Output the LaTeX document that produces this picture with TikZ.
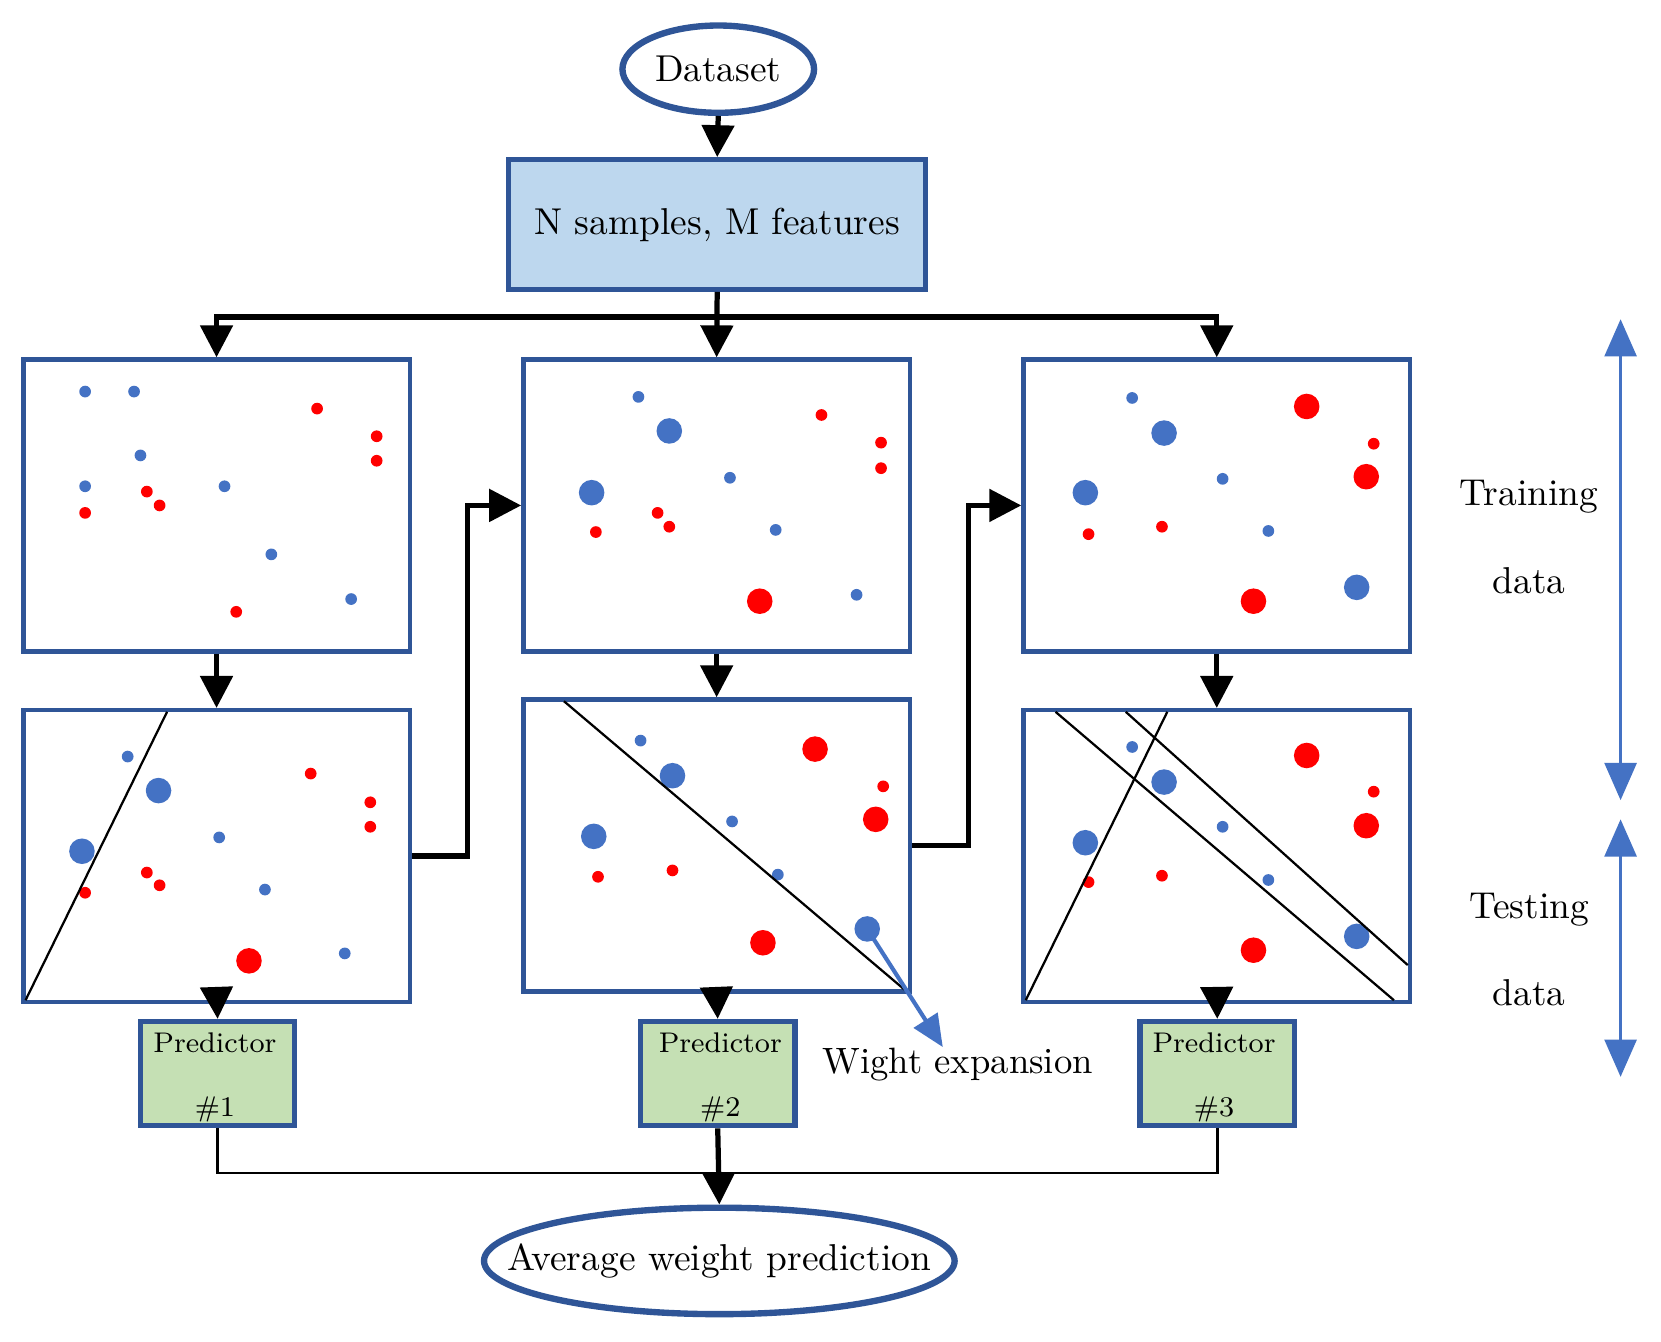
\documentclass[tikz,border=0pt]{standalone}
\usetikzlibrary{arrows.meta,shapes.geometric,calc}
\definecolor{bord}{RGB}{47,85,151}
\definecolor{lblue}{RGB}{189,215,238}
\definecolor{lgreen}{RGB}{197,224,180}
\definecolor{dblue}{RGB}{68,114,196}
\definecolor{dred}{RGB}{255,0,0}
\begin{document}
\begin{tikzpicture}[x=0.01cm,y=-0.01cm,
  panel/.style={draw=bord,line width=1.2pt,fill=white,minimum width=3.63cm,minimum height=2.74cm,inner sep=0pt},
  arr/.style={draw=black,line width=1.4pt,-{Triangle[length=0.3cm,width=0.3cm]}},
  thinln/.style={draw=black,line width=0.7pt},
  sepln/.style={draw=black,line width=0.6pt},
  pred/.style={draw=bord,line width=1.4pt,fill=lgreen,minimum width=1.45cm,minimum height=0.98cm,inner sep=0pt},
  ptxt/.style={font=\fontsize{7.6}{9}\selectfont,inner sep=0pt},
  txt/.style={font=\fontsize{10}{12}\selectfont,inner sep=0pt},
  ell/.style={draw=bord,line width=1.7pt,ellipse,inner sep=0pt},
  barr/.style={draw=dblue,line width=0.8pt,{Triangle[length=0.35cm,width=0.3cm]}-{Triangle[length=0.35cm,width=0.3cm]}},
  bs/.style={fill=dblue},
  rs/.style={fill=dred}]
\useasboundingbox (0,0) rectangle (1561,1261);
\fill[white] (0,0) rectangle (1561,1261);

% top
\node[ell,minimum width=1.8cm,minimum height=0.82cm] (ds) at (675,65) {};
\node[txt] (dst) at (ds.center) {Dataset};
\node[draw=bord,line width=1.3pt,fill=lblue,minimum width=3.92cm,minimum height=1.22cm,inner sep=0pt,font=\fontsize{10}{12}\selectfont] (box) at (674,211) {N samples, M features};
\draw[arr] (ds.south) -- (box.north);

% panels
\node[panel] (P1a) at (203.5,475) {};
\node[panel] (P2a) at (673.5,475) {};
\node[panel] (P3a) at (1143.5,475) {};
\node[panel] (P1b) at (203.5,804.5) {};
\node[panel] (P2b) at (673.5,794.5) {};
\node[panel] (P3b) at (1143.5,804.5) {};

\coordinate (sp) at (675,298);
\draw[arr] (box.south) -- (P2a.north);
\draw[arr] (sp) -| (P1a.north);
\draw[arr] (sp) -| (P3a.north);

\draw[arr] (P1a.south) -- (P1b.north);
\draw[arr] (P2a.south) -- (P2b.north);
\draw[arr] (P3a.south) -- (P3b.north);

\draw[arr] (P1b.east) -- ++(52,0) |- (P2a.west);
\draw[arr] (P2b.east) -- ++(53,0) |- (P3a.west);

% panel 1a dots
\foreach \x/\y in {80/368,126/368,132/428,80/457,211/457,255/521,330/563} \fill[bs] (\x,\y) circle (0.055cm);
\foreach \x/\y in {298/384,354/410,354/433,138/462,150/475,80/482,222/575} \fill[rs] (\x,\y) circle (0.055cm);
% panel 2a
\foreach \x/\y in {600/373,686/449,729/498,805/559} \fill[bs] (\x,\y) circle (0.055cm);
\foreach \x/\y in {629/405,556/463} \fill[bs] (\x,\y) circle (0.12cm);
\foreach \x/\y in {772/390,828/416,828/440,618/482,629/495,560/500} \fill[rs] (\x,\y) circle (0.055cm);
\fill[rs] (714,565) circle (0.12cm);
% panel 3a
\foreach \x/\y in {1064/374,1149/450,1192/499} \fill[bs] (\x,\y) circle (0.055cm);
\foreach \x/\y in {1094/407,1020/463,1275/552} \fill[bs] (\x,\y) circle (0.12cm);
\foreach \x/\y in {1291/417,1023/502,1092/495} \fill[rs] (\x,\y) circle (0.055cm);
\foreach \x/\y in {1228/382,1284/448,1178/565} \fill[rs] (\x,\y) circle (0.12cm);

% panel 1b
\foreach \x/\y in {120/711,206/787,249/836,324/896} \fill[bs] (\x,\y) circle (0.055cm);
\foreach \x/\y in {149/743,77/800} \fill[bs] (\x,\y) circle (0.12cm);
\foreach \x/\y in {292/727,348/754,348/777,138/820,150/832,80/839} \fill[rs] (\x,\y) circle (0.055cm);
\fill[rs] (234,903) circle (0.12cm);
\draw[sepln] (24,940) -- (157,669);
% panel 2b
\foreach \x/\y in {602/696,688/772,731/822} \fill[bs] (\x,\y) circle (0.055cm);
\foreach \x/\y in {632/729,558/786,815/873} \fill[bs] (\x,\y) circle (0.12cm);
\foreach \x/\y in {830/739,562/824,632/818} \fill[rs] (\x,\y) circle (0.055cm);
\foreach \x/\y in {766/704,823/770,717/886} \fill[rs] (\x,\y) circle (0.12cm);
\draw[sepln] (530,659) -- (850,930);
% panel 3b
\foreach \x/\y in {1064/702,1149/777,1192/827} \fill[bs] (\x,\y) circle (0.055cm);
\foreach \x/\y in {1094/735,1020/792,1275/880} \fill[bs] (\x,\y) circle (0.12cm);
\foreach \x/\y in {1291/744,1023/829,1092/823} \fill[rs] (\x,\y) circle (0.055cm);
\foreach \x/\y in {1228/710,1284/776,1178/893} \fill[rs] (\x,\y) circle (0.12cm);
\draw[sepln] (964,940) -- (1097,669);
\draw[sepln] (992,669) -- (1310,940);
\draw[sepln] (1058,669) -- (1323,907);

% predictors
\node[pred] (pr1) at (204.5,1009) {};
\node[pred] (pr2) at (674.5,1009) {};
\node[pred] (pr3) at (1144,1009) {};
\node[ptxt] (pr1t) at (202,980) {Predictor};
\node[ptxt] (pr1n) at (202,1043) {\#1};
\node[ptxt] (pr2t) at (677,980) {Predictor};
\node[ptxt] (pr2n) at (677,1043) {\#2};
\node[ptxt] (pr3t) at (1141,980) {Predictor};
\node[ptxt] (pr3n) at (1141,1043) {\#3};

\draw[arr] ($(P1b.south)+(0,-14)$) -- (pr1.north);
\draw[arr] (P2b.south) -- (pr2.north);
\draw[arr] ($(P3b.south)+(0,-14)$) -- (pr3.north);

% average
\node[ell,minimum width=4.42cm,minimum height=1.0cm] (avg) at (676,1185) {};
\node[txt] (avgt) at (avg.center) {Average weight prediction};
\draw[thinln] (pr1.south) -- ++(0,42) -| (pr3.south);
\draw[arr] (pr2.south) -- (avg.north);

% weight expansion
\coordinate (wdot) at (815,873);
\coordinate (wtip) at (886,984);
\draw[draw=dblue,line width=1.1pt,-{Triangle[length=0.3cm,width=0.26cm]}] (wdot) -- (wtip);
\node[txt,font=\fontsize{9.8}{12}\selectfont] (we) at (900,1000) {Wight expansion};

% right side
\coordinate (tr1) at (1523,300);
\coordinate (tr2) at (1523,752);
\coordinate (te1) at (1523,770);
\coordinate (te2) at (1523,1012);
\draw[barr] (tr1) -- (tr2);
\draw[barr] (te1) -- (te2);
\node[txt] (trn) at (1437,467) {Training};
\node[txt] (trd) at (1437,546) {data};
\node[txt] (ten) at (1437,855) {Testing};
\node[txt] (ted) at (1437,933) {data};
\end{tikzpicture}
\end{document}
